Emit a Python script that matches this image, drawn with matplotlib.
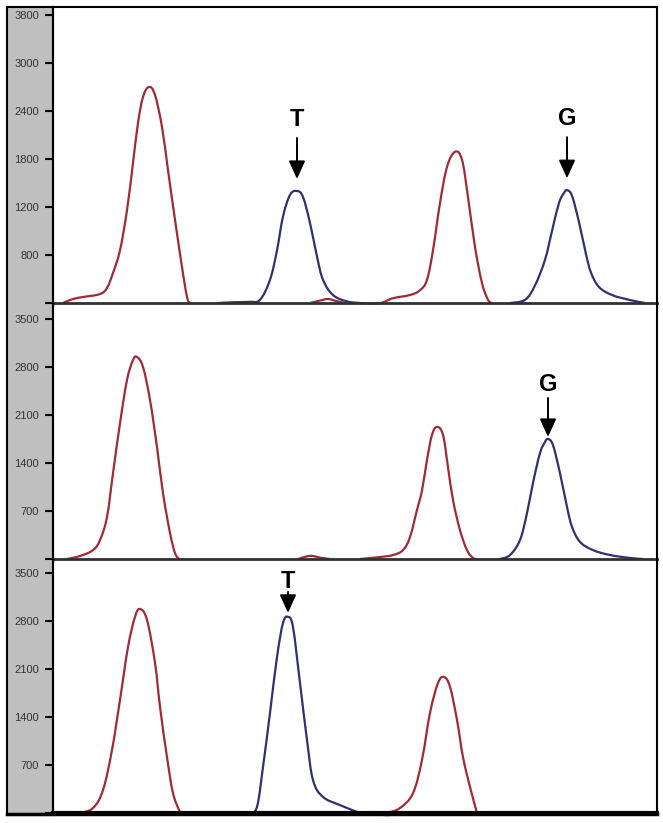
import matplotlib.pyplot as plt
from matplotlib.patches import Rectangle, PathPatch
from matplotlib.path import Path

plt.rcParams['font.family'] = ['Liberation Sans', 'DejaVu Sans']

RED = '#a12a36'
NAVY = '#2f3172'

# ---- trace readings (x = scan position, y = signal) ----
# panel 1
p1_red1_x = [63, 73, 83, 100, 107, 113, 120, 127, 133, 138, 143, 149, 155, 162, 168, 175, 182, 187, 190]
p1_red1_y = [0, 50, 75, 112, 190, 375, 660, 1160, 1750, 2250, 2575, 2700, 2600, 2200, 1660, 1040, 450, 75, 0]
p1_navy1_x = [218, 235, 250, 260, 270, 277, 283, 290, 297, 303, 310, 317, 323, 333, 347, 360]
p1_navy1_y = [0, 10, 15, 40, 290, 660, 1080, 1350, 1400, 1325, 1000, 580, 290, 100, 20, 0]
p1_bump_x = [310, 320, 328, 336, 345]
p1_bump_y = [0, 30, 50, 25, 0]
p1_red2_x = [360, 380, 393, 410, 420, 427, 433, 440, 447, 455, 462, 468, 475, 482, 488, 492]
p1_red2_y = [0, 0, 60, 100, 160, 290, 660, 1250, 1700, 1890, 1790, 1325, 700, 250, 40, 0]
p1_navy2_x = [510, 525, 535, 545, 552, 559, 564, 567, 572, 579, 586, 591, 599, 612, 629, 645]
p1_navy2_y = [0, 40, 220, 540, 900, 1250, 1375, 1410, 1340, 1010, 610, 380, 200, 100, 40, 0]

# panel 2
p2_red1_x = [67, 80, 93, 100, 107, 113, 120, 127, 133, 137, 143, 150, 157, 163, 170, 175, 179]
p2_red1_y = [0, 44, 130, 277, 612, 1250, 1980, 2610, 2900, 2945, 2800, 2320, 1630, 960, 380, 87, 0]
p2_bump_x = [298, 306, 312, 320, 330]
p2_bump_y = [0, 35, 45, 20, 0]
p2_red2_x = [360, 380, 393, 403, 410, 417, 422, 427, 432, 437, 443, 448, 453, 460, 467, 473, 477]
p2_red2_y = [0, 29, 58, 130, 320, 715, 1000, 1445, 1810, 1925, 1810, 1340, 860, 420, 130, 15, 0]
p2_navy_x = [500, 510, 520, 527, 533, 540, 545, 548, 553, 560, 567, 572, 580, 593, 610, 630, 643]
p2_navy_y = [0, 58, 277, 670, 1110, 1545, 1706, 1750, 1660, 1250, 760, 470, 250, 130, 58, 15, 0]

# panel 3
p3_red1_x = [80, 93, 103, 112, 120, 128, 135, 140, 147, 155, 160, 167, 173, 180, 182]
p3_red1_y = [0, 73, 335, 920, 1650, 2420, 2860, 2975, 2815, 2190, 1550, 815, 290, 15, 0]
p3_navy_x = [250, 257, 263, 270, 277, 283, 288, 293, 300, 307, 313, 323, 340, 360]
p3_navy_y = [0, 90, 670, 1460, 2275, 2770, 2860, 2710, 1895, 1065, 480, 235, 115, 0]
p3_dip_x = [378, 385, 392, 398]
p3_dip_y = [0, -30, -25, 0]
p3_red2_x = [387, 400, 413, 422, 430, 438, 444, 450, 457, 463, 470, 477]
p3_red2_y = [0, 73, 290, 775, 1460, 1895, 1983, 1840, 1355, 815, 380, 0]

panels = [
    {'traces': [(RED, p1_red1_x, p1_red1_y), (NAVY, p1_navy1_x, p1_navy1_y),
                (RED, p1_bump_x, p1_bump_y), (RED, p1_red2_x, p1_red2_y),
                (NAVY, p1_navy2_x, p1_navy2_y)],
     'ymax': 3700,
     'ticks': [600, 1200, 1800, 2400, 3000, 3600],
     'labels': ['800', '1200', '1800', '2400', '3000', '3800'],
     # letter, trace index, text offset px, shaft top px, gap px
     'calls': [('T', 1, 72, 53, 12), ('G', 4, 72, 53, 12)]},
    {'traces': [(RED, p2_red1_x, p2_red1_y), (RED, p2_bump_x, p2_bump_y),
                (RED, p2_red2_x, p2_red2_y), (NAVY, p2_navy_x, p2_navy_y)],
     'ymax': 3733,
     'ticks': [700, 1400, 2100, 2800, 3500],
     'labels': ['700', '1400', '2100', '2800', '3500'],
     'calls': [('G', 3, 54, 41, 2)]},
    {'traces': [(RED, p3_red1_x, p3_red1_y), (NAVY, p3_navy_x, p3_navy_y),
                (RED, p3_dip_x, p3_dip_y), (RED, p3_red2_x, p3_red2_y)],
     'ymax': 3704,
     'ticks': [700, 1400, 2100, 2800, 3500],
     'labels': ['700', '1400', '2100', '2800', '3500'],
     'calls': [('T', 1, 35, 25, 4)]},
]


def smooth_path(xs, ys, t=0.18):
    # Catmull-Rom style bezier through the read points (rendering only)
    verts = [(xs[0], ys[0])]
    codes = [Path.MOVETO]
    n = len(xs)
    for j in range(n - 1):
        x0, y0 = xs[max(j - 1, 0)], ys[max(j - 1, 0)]
        x1, y1 = xs[j], ys[j]
        x2, y2 = xs[j + 1], ys[j + 1]
        x3, y3 = xs[min(j + 2, n - 1)], ys[min(j + 2, n - 1)]
        c1 = (x1 + (x2 - x0) * t, y1 + (y2 - y0) * t)
        c2 = (x2 - (x3 - x1) * t, y2 - (y3 - y1) * t)
        verts += [c1, c2, (x2, y2)]
        codes += [Path.CURVE4] * 3
    return Path(verts, codes)


W, H = 663, 823
fig = plt.figure(figsize=(W / 100, H / 100), dpi=100)

# grey label strip
fig.patches.append(Rectangle((7 / W, 1 - 815 / H), 46 / W, 808 / H,
                             transform=fig.transFigure, facecolor='#bfbfbf',
                             edgecolor='black', lw=1.5, zorder=-1))

edges = [7, 303, 559, 813]
px_per_pt = 100 / 72

for i, p in enumerate(panels):
    top, bot = edges[i], edges[i + 1]
    ax = fig.add_axes([53 / W, 1 - bot / H, 604 / W, (bot - top) / H])
    ax.patch.set_visible(False)
    for color, xs, ys in p['traces']:
        ax.add_patch(PathPatch(smooth_path(xs, ys), facecolor='none', edgecolor=color,
                               lw=1.6, clip_on=False, joinstyle='round'))
    ax.set_xlim(53, 657)
    ax.set_ylim(0, p['ymax'])
    ax.set_xticks([])
    ax.set_yticks([0] + p['ticks'])
    ax.set_yticklabels([''] + p['labels'])
    ax.tick_params(axis='y', direction='out', length=6, width=1.5, pad=4,
                   labelsize=8, labelcolor='#333333', color='black')

    for side in ['left', 'right', 'top']:
        ax.spines[side].set_color('black')
        ax.spines[side].set_linewidth(1.5)
    if i > 0:
        ax.spines['top'].set_visible(False)
    ax.spines['bottom'].set_color('#303030' if i < 2 else 'black')
    ax.spines['bottom'].set_linewidth(2.0 if i < 2 else 3.0)

    # base-call arrows
    for letter, ti, dtext, dshaft, gap in p['calls']:
        _, xs, ys = p['traces'][ti]
        k = ys.index(max(ys))
        px, py = xs[k], ys[k]
        ax.annotate(letter, xy=(px, py), xytext=(0, dtext / px_per_pt),
                    textcoords='offset points', ha='center', va='center',
                    fontsize=17, fontweight='bold')
        ax.annotate('', xy=(px, py), xytext=(0, dshaft / px_per_pt),
                    textcoords='offset points',
                    arrowprops=dict(arrowstyle='-|>,head_length=1.1,head_width=0.5',
                                    mutation_scale=10, color='black', lw=1.4,
                                    shrinkA=0, shrinkB=gap / px_per_pt))

# thick line under the bottom panel across the strip
fig.add_artist(plt.Line2D([7 / W, 657 / W], [1 - 814 / H, 1 - 814 / H],
                          transform=fig.transFigure, color='black', lw=2.5))

plt.savefig('out.png', dpi=100)
plt.close()
